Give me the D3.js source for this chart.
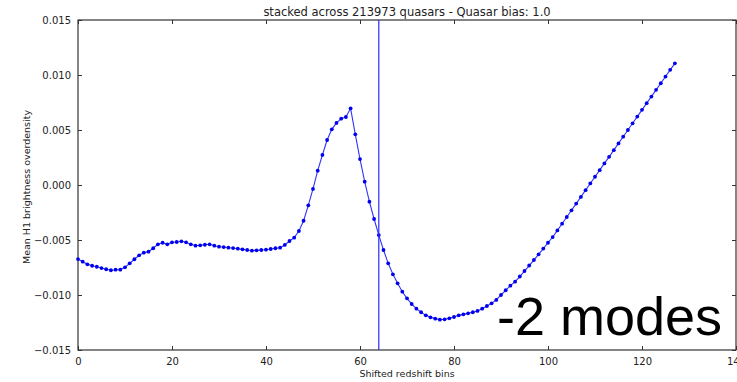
<!DOCTYPE html>
<html>
<head>
<meta charset="utf-8">
<script src="https://cdn.jsdelivr.net/npm/d3@7"></script>
<style>
  body { margin: 0; background: #fff; }
  text { font-family: "DejaVu Sans", sans-serif; fill: #222; }
</style>
</head>
<body>
<div id="chart"></div>
<script>
// Data
// ================================
const titleText = "stacked across 213973 quasars - Quasar bias: 1.0";
const xLabel = "Shifted redshift bins";
const yLabel = "Mean H1 brightness overdensity";
const annotation = "-2 modes";
const markerBin = 64;

const xTicks = [0, 20, 40, 60, 80, 100, 120, 140];
const yTicks = [-0.015, -0.010, -0.005, 0.000, 0.005, 0.010, 0.015];

// mean overdensity per bin (bin index = position in the array)
const overdensity = [
  -0.00673, -0.00697, -0.00721, -0.00734, -0.00743, -0.00755, -0.00766, -0.00775,
  -0.00770, -0.00770, -0.00748, -0.00712, -0.00675, -0.00639, -0.00615, -0.00606,
  -0.00575, -0.00539, -0.00525, -0.00539, -0.00521, -0.00518, -0.00512, -0.00521,
  -0.00539, -0.00552, -0.00548, -0.00543, -0.00539, -0.00552, -0.00561, -0.00564,
  -0.00570, -0.00573, -0.00579, -0.00585, -0.00591, -0.00597, -0.00594, -0.00591,
  -0.00588, -0.00582, -0.00575, -0.00570, -0.00545, -0.00509, -0.00479, -0.00418,
  -0.00325, -0.00185, -0.00036, 0.00130, 0.00273, 0.00409, 0.00506, 0.00564,
  0.00603, 0.00618, 0.00697, 0.00461, 0.00236, 0.00030, -0.00152, -0.00309,
  -0.00455, -0.00591, -0.00712, -0.00812, -0.00894, -0.00970, -0.01030, -0.01082,
  -0.01124, -0.01157, -0.01185, -0.01203, -0.01215, -0.01224, -0.01221, -0.01212,
  -0.01200, -0.01185, -0.01176, -0.01167, -0.01157, -0.01145, -0.01124, -0.01100,
  -0.01076, -0.01045, -0.01000, -0.00957, -0.00915, -0.00879, -0.00832, -0.00782,
  -0.00732, -0.00682, -0.00630, -0.00578, -0.00525, -0.00473, -0.00413, -0.00352,
  -0.00291, -0.00230, -0.00169, -0.00108, -0.00047, 0.00014, 0.00075, 0.00135,
  0.00196, 0.00256, 0.00317, 0.00378, 0.00439, 0.00500, 0.00561, 0.00622,
  0.00683, 0.00744, 0.00804, 0.00865, 0.00925, 0.00986, 0.01047, 0.01106
];

// Step 1: chart size
// ================================
const svgWidth = 737;
const svgHeight = 382;
const margin = { top: 20, right: 1, bottom: 32, left: 78 };
const width = svgWidth - margin.left - margin.right;
const height = svgHeight - margin.top - margin.bottom;

const svg = d3.select("#chart")
  .append("svg")
  .attr("width", svgWidth)
  .attr("height", svgHeight);

const chartGroup = svg.append("g")
  .attr("transform", `translate(${margin.left}, ${margin.top})`);

// Step 2: scales and axes
// ================================
const xScale = d3.scaleLinear().domain([0, 140]).range([0, width]);
const yScale = d3.scaleLinear().domain([-0.015, 0.015]).range([height, 0]);

const fmtY = d => d3.format(".3f")(d).replace("-", "\u2212");

// ticks pointing inward, on all four sides
chartGroup.append("g")
  .attr("transform", `translate(0, ${height})`)
  .call(d3.axisBottom(xScale).tickValues(xTicks).tickSize(-4).tickPadding(8).tickFormat(d3.format("d")))
  .call(g => g.select(".domain").remove());

chartGroup.append("g")
  .call(d3.axisTop(xScale).tickValues(xTicks).tickSize(-4).tickFormat(""))
  .call(g => g.select(".domain").remove());

chartGroup.append("g")
  .call(d3.axisLeft(yScale).tickValues(yTicks).tickSize(-4).tickPadding(7).tickFormat(fmtY))
  .call(g => g.select(".domain").remove());

chartGroup.append("g")
  .attr("transform", `translate(${width}, 0)`)
  .call(d3.axisRight(yScale).tickValues(yTicks).tickSize(-4).tickFormat(""))
  .call(g => g.select(".domain").remove());

chartGroup.selectAll(".tick line").attr("stroke", "#333");
chartGroup.selectAll(".tick text")
  .style("font-size", "10px")
  .style("font-family", "DejaVu Sans, sans-serif")
  .attr("fill", "#222");

// frame
chartGroup.append("rect")
  .attr("width", width)
  .attr("height", height)
  .attr("fill", "none")
  .attr("stroke", "#333")
  .attr("stroke-width", 1.2);

// Step 3: data line, markers, vertical marker line
// ================================
const line = d3.line()
  .x((d, i) => xScale(i))
  .y(d => yScale(d));

chartGroup.append("path")
  .datum(overdensity)
  .attr("d", line)
  .attr("fill", "none")
  .attr("stroke", "#3333ff")
  .attr("stroke-width", 1.1);

chartGroup.selectAll("circle")
  .data(overdensity)
  .enter()
  .append("circle")
  .attr("cx", (d, i) => xScale(i))
  .attr("cy", d => yScale(d))
  .attr("r", 1.9)
  .attr("fill", "#0000ee");

chartGroup.append("line")
  .attr("x1", xScale(markerBin))
  .attr("x2", xScale(markerBin))
  .attr("y1", 0)
  .attr("y2", height)
  .attr("stroke", "#2a2aff")
  .attr("stroke-width", 1.2);

// Step 4: labels
// ================================
svg.append("text")
  .attr("x", margin.left + width / 2)
  .attr("y", 16)
  .attr("text-anchor", "middle")
  .style("font-size", "11.5px")
  .text(titleText);

svg.append("text")
  .attr("x", margin.left + width / 2)
  .attr("y", 377)
  .attr("text-anchor", "middle")
  .style("font-size", "9.5px")
  .text(xLabel);

svg.append("text")
  .attr("transform", `translate(30, ${margin.top + height / 2 + 2}) rotate(-90)`)
  .attr("text-anchor", "middle")
  .style("font-size", "9.5px")
  .text(yLabel);

svg.append("text")
  .attr("x", 497)
  .attr("y", 335)
  .style("font-family", "Liberation Sans, Arial, sans-serif")
  .style("font-size", "54px")
  .style("fill", "#000")
  .text(annotation);
</script>
</body>
</html>
